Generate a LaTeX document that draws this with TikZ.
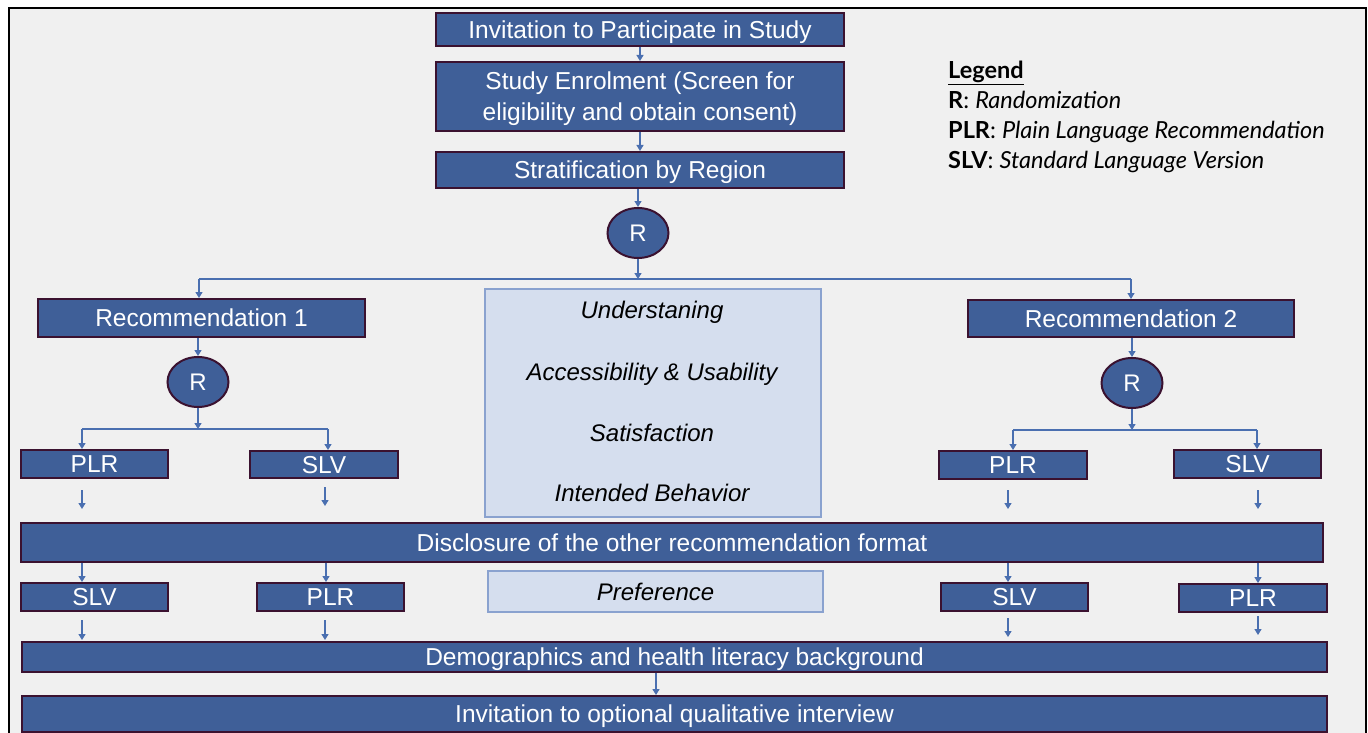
\documentclass[tikz,border=0pt]{standalone}
\usepackage{fontspec}
\setmainfont{Liberation Sans}
\newfontfamily\legendfont{Lato}
\usetikzlibrary{arrows.meta,shapes.geometric}
\definecolor{boxblue}{HTML}{3F5F98}
\definecolor{boxedge}{HTML}{3B1230}
\definecolor{arrowblue}{HTML}{4A6FB0}
\definecolor{lightfill}{HTML}{D5DEEE}
\definecolor{lightedge}{HTML}{8AA2CF}
\definecolor{bggray}{HTML}{F0F0F0}
\begin{document}
\begin{tikzpicture}[x=1pt,y=-1pt,
  bluebox/.style={draw=boxedge, line width=2pt, fill=boxblue, text=white, inner sep=0pt,
    font=\fontsize{24.5}{31}\selectfont, align=center, text depth=0pt},
  rnode/.style={ellipse, draw=boxedge, line width=2pt, fill=boxblue, text=white, inner sep=0pt,
    minimum width=61pt, minimum height=50pt, font=\fontsize{24}{26}\selectfont, text depth=0pt},
  lightbox/.style={draw=lightedge, line width=1.2pt, fill=lightfill, inner sep=0pt},
  itext/.style={font=\fontsize{24}{26}\selectfont\itshape, text=black, inner sep=0pt, text depth=0pt},
  legtext/.style={anchor=base west, inner sep=0pt, font=\legendfont\fontsize{23.5}{26}\selectfont, text=black},
  link/.style={draw=arrowblue, line width=1.3pt},
  conn/.style={link, -{Triangle[length=6pt,width=7pt]}}
]
\clip (0,0) rectangle (1368,733);
\useasboundingbox (0,0) rectangle (1368,733);
\fill[white] (0,0) rectangle (1368,733);
\draw[fill=bggray, line width=2pt] (9,8) rectangle (1366,760);

% top chain
\node[bluebox, minimum width=408pt, minimum height=33pt] (inv) at (640,29.5) {Invitation to Participate in Study};
\node[bluebox, minimum width=408pt, minimum height=69pt] (enrol) at (640,96.5) {Study Enrolment (Screen for\\eligibility and obtain consent)};
\node[bluebox, minimum width=408pt, minimum height=36pt] (strat) at (640,170) {Stratification by Region};
\node[rnode] (R0) at (638,233) {R};

% legend
\node[legtext] (lg0) at (948,79) {\bfseries\underline{Legend}};
\node[legtext] (lg1) at (948,109) {\textbf{R}: \textit{Randomization}};
\node[legtext] (lg2) at (948,139) {\textbf{PLR}: \textit{Plain Language Recommendation}};
\node[legtext] (lg3) at (948,168) {\textbf{SLV}: \textit{Standard Language Version}};

% recommendations
\node[bluebox, minimum width=327pt, minimum height=38pt] (rec1) at (201.5,318) {Recommendation 1};
\node[bluebox, minimum width=326pt, minimum height=37pt] (rec2) at (1131,318.5) {Recommendation 2};
\node[rnode] (R1) at (198,382) {R};
\node[rnode] (R2) at (1132,383) {R};

% first arms
\node[bluebox, minimum width=147pt, minimum height=28pt] (plr1) at (94.5,464) {PLR};
\node[bluebox, minimum width=148pt, minimum height=27pt] (slv1) at (324,464.5) {SLV};
\node[bluebox, minimum width=148pt, minimum height=28pt] (plr2) at (1013,465) {PLR};
\node[bluebox, minimum width=147pt, minimum height=28pt] (slv2) at (1247.5,464) {SLV};

% measures box
\node[lightbox, minimum width=336pt, minimum height=228pt] (meas) at (653,403) {};
\node[itext] (m1) at (652,310) {Understaning};
\node[itext] (m2) at (652,372) {Accessibility \& Usability};
\node[itext] (m3) at (652,433) {Satisfaction};
\node[itext] (m4) at (652,493) {Intended Behavior};

% disclosure
\node[bluebox, minimum width=1302pt, minimum height=39pt] (disc) at (672,542.5) {Disclosure of the other recommendation format};

% second arms
\node[bluebox, minimum width=147pt, minimum height=28pt] (slv3) at (94.5,597) {SLV};
\node[bluebox, minimum width=147pt, minimum height=28pt] (plr3) at (330.5,597) {PLR};
\node[bluebox, minimum width=147pt, minimum height=28pt] (slv4) at (1014.5,597) {SLV};
\node[bluebox, minimum width=148pt, minimum height=28pt] (plr4) at (1253,598) {PLR};
\node[lightbox, minimum width=335pt, minimum height=41pt, font=\fontsize{24}{26}\selectfont\itshape, text depth=0pt] (pref) at (655.5,591.5) {Preference};

% bottom bars
\node[bluebox, minimum width=1305pt, minimum height=30pt] (demo) at (674.5,657) {Demographics and health literacy background};
\node[bluebox, minimum width=1305pt, minimum height=36pt] (inv2) at (674.5,714) {Invitation to optional qualitative interview};

% columns and junctions
\coordinate (colA) at (82,0);
\coordinate (colB) at (326,0);
\coordinate (colC) at (1008,0);
\coordinate (colD) at (1258,0);
\coordinate (colE) at (656,0);
\coordinate (jt) at (638,279);
\coordinate (jl) at (199,279);
\coordinate (jr) at (1131,279);
\coordinate (j1) at (198,429);
\coordinate (j1l) at (82,429);
\coordinate (j1r) at (328,429);
\coordinate (j2) at (1132,430);
\coordinate (j2l) at (1013,430);
\coordinate (j2r) at (1257,430);

% connectors top
\draw[conn] (inv.south) -- (enrol.north);
\draw[conn] (enrol.south) -- (strat.north);
\draw[conn] (R0.north |- strat.south) -- (R0.north);
\draw[conn] (R0.south) -- (jt);
\draw[link] (jl) -- (jr);
\draw[conn] (jl) -- (jl |- rec1.north);
\draw[conn] (jr) -- (jr |- rec2.north);
\draw[conn] (R1.north |- rec1.south) -- (R1.north);
\draw[conn] (R2.north |- rec2.south) -- (R2.north);
\draw[conn] (R1.south) -- (j1);
\draw[conn] (R2.south) -- (j2);
\draw[link] (j1l) -- (j1r);
\draw[link] (j2l) -- (j2r);
\draw[conn] (j1l) -- (j1l |- plr1.north);
\draw[conn] (j1r) -- (j1r |- slv1.north);
\draw[conn] (j2l) -- (j2l |- plr2.north);
\draw[conn] (j2r) -- (j2r |- slv2.north);

% free arrows after first arms
\coordinate (fa1) at (82,490);  \coordinate (fa1e) at (82,509);
\coordinate (fb1) at (325,487); \coordinate (fb1e) at (325,506);
\coordinate (fc1) at (1008,490); \coordinate (fc1e) at (1008,509);
\coordinate (fd1) at (1258,490); \coordinate (fd1e) at (1258,509);
\draw[conn] (fa1) -- (fa1e);
\draw[conn] (fb1) -- (fb1e);
\draw[conn] (fc1) -- (fc1e);
\draw[conn] (fd1) -- (fd1e);

% disclosure to second arms
\draw[conn] (disc.south -| colA) -- (slv3.north -| colA);
\draw[conn] (disc.south -| colB) -- (plr3.north -| colB);
\draw[conn] (disc.south -| colC) -- (slv4.north -| colC);
\draw[conn] (disc.south -| colD) -- (plr4.north -| colD);

% free arrows after second arms
\coordinate (fa2) at (82,620);  \coordinate (fa2e) at (82,640);
\coordinate (fb2) at (325,620); \coordinate (fb2e) at (325,640);
\coordinate (fc2) at (1008,618); \coordinate (fc2e) at (1008,637);
\coordinate (fd2) at (1258,616); \coordinate (fd2e) at (1258,635);
\draw[conn] (fa2) -- (fa2e);
\draw[conn] (fb2) -- (fb2e);
\draw[conn] (fc2) -- (fc2e);
\draw[conn] (fd2) -- (fd2e);

\draw[conn] (demo.south -| colE) -- (inv2.north -| colE);
\end{tikzpicture}
\end{document}
